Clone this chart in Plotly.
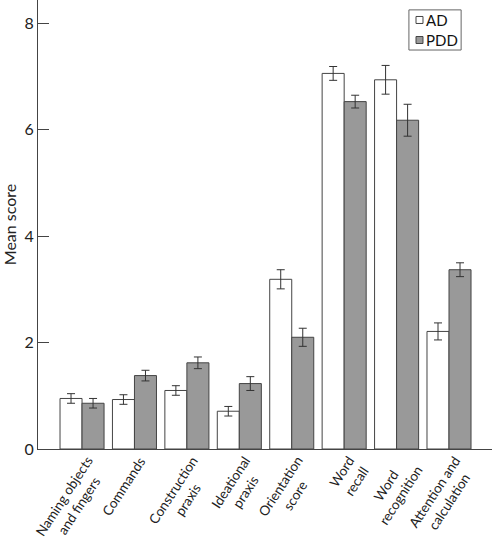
import math
import plotly.graph_objects as go

categories = ["Naming objects<br>and fingers", "Commands", "Construction<br>praxis",
              "Ideational<br>praxis", "Orientation<br>score", "Word<br>recall",
              "Word<br>recognition", "Attention and<br>calculation"]
ad_values = [0.95, 0.93, 1.10, 0.71, 3.19, 7.06, 6.94, 2.21]
ad_errors = [0.09, 0.09, 0.09, 0.09, 0.18, 0.13, 0.27, 0.16]
pdd_values = [0.86, 1.38, 1.62, 1.23, 2.10, 6.53, 6.18, 3.37]
pdd_errors = [0.09, 0.10, 0.11, 0.13, 0.17, 0.12, 0.30, 0.13]
y_ticks = [0, 2, 4, 6, 8]
series_names = ["AD", "PDD"]

FONT = "Lato"
LINE = "#444444"
TEXT = "#222222"
FILLS = ["white", "#999999"]
LABEL_SIZE = 13.5
ANGLE = 57

fig = go.Figure()
for name, vals, errs, fill in zip(series_names, [ad_values, pdd_values],
                                  [ad_errors, pdd_errors], FILLS):
    fig.add_trace(go.Bar(
        name=name, x=categories, y=vals, showlegend=False,
        marker=dict(color=fill, line=dict(color=LINE, width=1)),
        error_y=dict(type="data", array=errs, color="#333333", thickness=1, width=4),
    ))

# category labels, rotated, centred multi-line; first line ends at the category centre
for c in categories:
    n_lines = c.count("<br>") + 1
    shift = n_lines * 1.3 * LABEL_SIZE * math.sin(math.radians(ANGLE))
    fig.add_annotation(
        x=c, xref="x", y=0, yref="paper", yshift=-3, xshift=shift + 1,
        text=c, textangle=-ANGLE, showarrow=False, align="center",
        xanchor="right", yanchor="top", borderpad=0,
        font=dict(size=LABEL_SIZE, family=FONT, color=TEXT),
    )

# legend: box, swatches and labels
fig.add_shape(type="rect", xref="paper", yref="paper",
              x0=0.817, x1=0.932, y0=0.8886, y1=0.978,
              line=dict(color="#666666", width=1), fillcolor="white", layer="above")
swatch_y = [(0.9477, 0.9633), (0.9031, 0.9187)]
text_y = [0.9555, 0.9109]
for n, fill, (sy0, sy1), ty in zip(series_names, FILLS, swatch_y, text_y):
    fig.add_shape(type="rect", xref="paper", yref="paper",
                  x0=0.8326, x1=0.848, y0=sy0, y1=sy1,
                  line=dict(color=LINE, width=1), fillcolor=fill, layer="above")
    fig.add_annotation(
        x=0.8524, y=ty, xref="paper", yref="paper", xanchor="left", yanchor="middle",
        text=n, showarrow=False, align="left", borderpad=0,
        font=dict(size=15, family=FONT, color="#111111"),
    )

fig.update_layout(
    width=492, height=540,
    margin=dict(l=38, r=0, t=0, b=91),
    plot_bgcolor="white", paper_bgcolor="white",
    barmode="group", bargap=0.16, bargroupgap=0,
    font=dict(family=FONT, size=14, color=TEXT),
    showlegend=False,
)
fig.update_xaxes(
    range=[-0.84, 7.82], showline=True, linecolor=LINE, linewidth=1,
    ticks="", showticklabels=False, automargin=False,
    showgrid=False, zeroline=False,
)
fig.update_yaxes(
    range=[0, 8.44], showline=True, linecolor=LINE, linewidth=1,
    ticks="inside", ticklen=11, tickcolor=LINE, tickwidth=1,
    tickvals=y_ticks, ticktext=[str(v) for v in y_ticks],
    tickfont=dict(size=16, family=FONT, color=TEXT), automargin=False,
    title=dict(text="Mean score", font=dict(size=16, family=FONT, color=TEXT), standoff=4),
    showgrid=False, zeroline=False,
)

fig.write_html("out.html", config={"displayModeBar": False},
               post_script="document.body.style.margin='0';")
